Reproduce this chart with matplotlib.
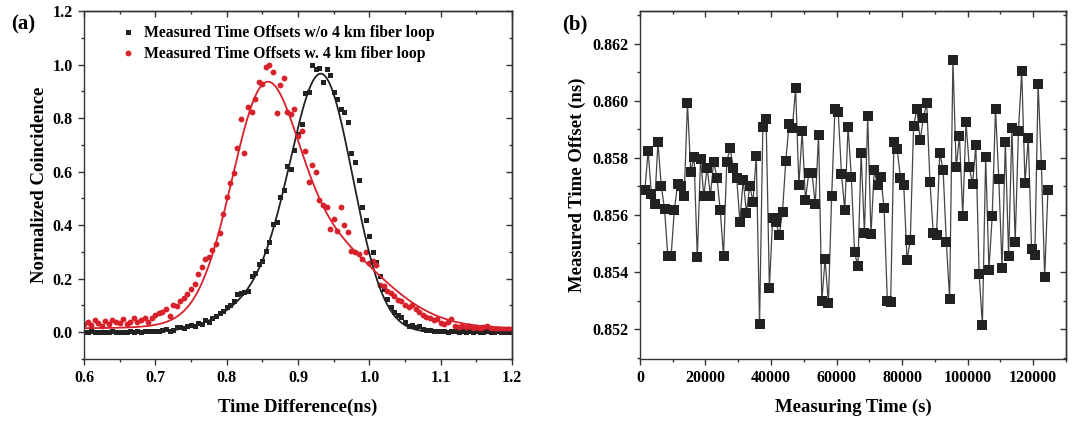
"""Time offset measurements: coincidence histograms and long-term stability."""

import matplotlib
matplotlib.use("Agg")
import matplotlib.pyplot as plt
import numpy as np
from matplotlib.ticker import MultipleLocator

# ---- panel (a): normalized coincidence vs time difference -------------------
time_bins_ns = np.round(np.arange(0.600, 1.2001, 0.005), 3)

coinc_no_loop = [
    0.002, 0.000, 0.003, 0.001, 0.000, 0.002, 0.001, 0.000, 0.003, 0.001,
    0.002, 0.000, 0.001, 0.003, 0.002, 0.004, 0.001, 0.003, 0.005, 0.004,
    0.006, 0.004, 0.009, 0.012, 0.006, 0.010, 0.018, 0.020, 0.016, 0.024,
    0.028, 0.022, 0.035, 0.030, 0.045, 0.038, 0.055, 0.060, 0.072, 0.078,
    0.093, 0.100, 0.116, 0.141, 0.145, 0.150, 0.155, 0.210, 0.223, 0.255,
    0.267, 0.305, 0.337, 0.406, 0.410, 0.507, 0.532, 0.620, 0.608, 0.680,
    0.740, 0.778, 0.895, 0.898, 0.999, 0.985, 0.986, 0.933, 0.984, 0.961,
    0.898, 0.873, 0.835, 0.822, 0.784, 0.671, 0.636, 0.570, 0.469, 0.420,
    0.360, 0.300, 0.262, 0.210, 0.160, 0.125, 0.095, 0.075, 0.065, 0.058,
    0.040, 0.025, 0.028, 0.018, 0.022, 0.012, 0.010, 0.008, 0.006, 0.005,
    0.004, 0.003, 0.002, 0.004, 0.003, 0.001, 0.003, 0.002, 0.004, 0.002,
    0.003, 0.001, 0.002, 0.003, 0.002, 0.001, 0.003, 0.002, 0.001, 0.002,
    0.001,
]

coinc_with_loop = [
    0.030, 0.038, 0.028, 0.045, 0.035, 0.025, 0.042, 0.030, 0.045, 0.040,
    0.035, 0.050, 0.032, 0.040, 0.052, 0.038, 0.045, 0.055, 0.040, 0.052,
    0.064, 0.070, 0.075, 0.085, 0.060, 0.101, 0.097, 0.116, 0.129, 0.144,
    0.160, 0.182, 0.217, 0.243, 0.274, 0.280, 0.306, 0.331, 0.369, 0.443,
    0.506, 0.557, 0.594, 0.690, 0.797, 0.670, 0.841, 0.822, 0.872, 0.936,
    0.929, 0.992, 0.999, 0.973, 0.820, 0.923, 0.951, 0.822, 0.815, 0.834,
    0.733, 0.752, 0.677, 0.563, 0.626, 0.600, 0.494, 0.474, 0.466, 0.387,
    0.424, 0.380, 0.468, 0.400, 0.374, 0.304, 0.298, 0.294, 0.272, 0.298,
    0.260, 0.266, 0.253, 0.178, 0.172, 0.153, 0.146, 0.134, 0.121, 0.118,
    0.102, 0.096, 0.100, 0.085, 0.077, 0.064, 0.058, 0.052, 0.045, 0.048,
    0.033, 0.030, 0.038, 0.048, 0.025, 0.020, 0.022, 0.018, 0.025, 0.015,
    0.020, 0.012, 0.018, 0.023, 0.015, 0.010, 0.013, 0.010, 0.008, 0.012,
    0.010,
]

# fitted peak shapes: (amp1, center1, sigma1, amp2, center2, sigma2, offset)
fit_no_loop = (0.88, 0.935, 0.043, 0.15, 0.870, 0.060, 0.000)
fit_with_loop = (0.68, 0.851, 0.045, 0.34, 0.925, 0.085, 0.015)

# ---- panel (b): measured time offset over time ------------------------------
sample_step_s = 1000
time_offset_ns = [
    0.85688, 0.85688, 0.85825, 0.85672, 0.85640, 0.85855, 0.85703, 0.85621,
    0.85457, 0.85455, 0.85618, 0.85708, 0.85703, 0.85665, 0.85993, 0.85752,
    0.85804, 0.85452, 0.85796, 0.85668, 0.85766, 0.85668, 0.85787, 0.85731,
    0.85616, 0.85457, 0.85787, 0.85833, 0.85766, 0.85731, 0.85577, 0.85724,
    0.85606, 0.85703, 0.85647, 0.85807, 0.85219, 0.85909, 0.85936, 0.85343,
    0.85591, 0.85577, 0.85529, 0.85611, 0.85789, 0.85918, 0.85905, 0.86044,
    0.85705, 0.85895, 0.85651, 0.85746, 0.85746, 0.85637, 0.85881, 0.85298,
    0.85446, 0.85290, 0.85665, 0.85971, 0.85961, 0.85744, 0.85616, 0.85909,
    0.85733, 0.85469, 0.85420, 0.85818, 0.85536, 0.85947, 0.85532, 0.85758,
    0.85704, 0.85732, 0.85623, 0.85298, 0.85294, 0.85857, 0.85830, 0.85729,
    0.85704, 0.85443, 0.85511, 0.85911, 0.85972, 0.85862, 0.85940, 0.85993,
    0.85716, 0.85536, 0.85529, 0.85817, 0.85759, 0.85505, 0.85304, 0.86144,
    0.85767, 0.85876, 0.85598, 0.85926, 0.85767, 0.85708, 0.85845, 0.85392,
    0.85215, 0.85803, 0.85408, 0.85598, 0.85972, 0.85727, 0.85414, 0.85855,
    0.85456, 0.85905, 0.85505, 0.85895, 0.86103, 0.85713, 0.85870, 0.85481,
    0.85461, 0.86059, 0.85776, 0.85383, 0.85688,
]

RED = "#d8222b"
DARK = "#222222"

plt.rcParams["font.family"] = ["Liberation Serif", "DejaVu Serif"]
plt.rcParams["font.weight"] = "bold"
plt.rcParams["axes.labelweight"] = "bold"
plt.rcParams["axes.linewidth"] = 1.0
plt.rcParams["axes.edgecolor"] = "#333333"


def two_gauss(x, params):
    a1, m1, s1, a2, m2, s2, y0 = params
    return (y0 + a1 * np.exp(-(x - m1) ** 2 / (2 * s1 ** 2))
            + a2 * np.exp(-(x - m2) ** 2 / (2 * s2 ** 2)))


def style_axes(ax, xmaj, xmin, ymaj, ymin):
    ax.xaxis.set_major_locator(MultipleLocator(xmaj))
    ax.xaxis.set_minor_locator(MultipleLocator(xmin))
    ax.yaxis.set_major_locator(MultipleLocator(ymaj))
    ax.yaxis.set_minor_locator(MultipleLocator(ymin))
    ax.tick_params(which="major", direction="out", length=4.5, width=1.0,
                   labelsize=11.5, color="#333333")
    ax.tick_params(which="minor", direction="out", length=2.5, width=1.0,
                   color="#333333")
    for lab in ax.get_xticklabels() + ax.get_yticklabels():
        lab.set_fontweight("bold")

    top = ax.secondary_xaxis("top")
    right = ax.secondary_yaxis("right")
    for sec, axis in ((top, top.xaxis), (right, right.yaxis)):
        major = xmaj if sec is top else ymaj
        minor = xmin if sec is top else ymin
        axis.set_major_locator(MultipleLocator(major))
        axis.set_minor_locator(MultipleLocator(minor))
        sec.tick_params(which="major", direction="in", length=4.5, width=1.0,
                        color="#333333")
        sec.tick_params(which="minor", direction="in", length=2.5, width=1.0,
                        color="#333333")
    top.tick_params(labeltop=False)
    right.tick_params(labelright=False)


def main() -> None:
    fig = plt.figure(figsize=(10.75, 4.22), dpi=100)
    ax_a = fig.add_axes([0.0781, 0.1493, 0.3982, 0.8246])
    ax_b = fig.add_axes([0.5953, 0.1493, 0.3963, 0.8246])

    # (a)
    x_fine = np.linspace(0.6, 1.2, 600)
    ax_a.plot(time_bins_ns, coinc_no_loop, "s", color=DARK, ms=3.6, mew=0,
              label="Measured Time Offsets w/o 4 km fiber loop")
    ax_a.plot(time_bins_ns, coinc_with_loop, "o", color=RED, ms=4.2, mew=0,
              label="Measured Time Offsets w. 4 km fiber loop")
    ax_a.plot(x_fine, two_gauss(x_fine, fit_no_loop), color=DARK, lw=1.3)
    ax_a.plot(x_fine, two_gauss(x_fine, fit_with_loop), color=RED, lw=1.3)
    ax_a.set_xlim(0.6, 1.2)
    ax_a.set_ylim(-0.1, 1.2)
    style_axes(ax_a, 0.1, 0.05, 0.2, 0.1)
    ax_a.set_xlabel("Time Difference(ns)", fontsize=13.5, labelpad=9)
    ax_a.set_ylabel("Normalized Coincidence", fontsize=13.5, labelpad=3)
    ax_a.legend(loc="upper left", bbox_to_anchor=(0.06, 0.99), frameon=False,
                handlelength=1.0, handletextpad=0.5, borderaxespad=0.3,
                labelspacing=0.3, prop={"weight": "bold", "size": 11.3})

    # (b)
    meas_time = sample_step_s * (np.arange(len(time_offset_ns)) + 0.5)
    ax_b.plot(meas_time, time_offset_ns, "-", color="#444444", lw=0.9)
    ax_b.plot(meas_time, time_offset_ns, "s", color=DARK, ms=6.5, mew=0)
    ax_b.set_xlim(0, 130000)
    ax_b.set_ylim(0.85095, 0.86315)
    style_axes(ax_b, 20000, 10000, 0.002, 0.001)
    ax_b.set_xlabel("Measuring Time (s)", fontsize=13.5, labelpad=9)
    ax_b.set_ylabel("Measured Time Offset (ns)", fontsize=13.5, labelpad=5)

    fig.text(0.010, 0.93, "(a)", fontsize=15, fontweight="bold")
    fig.text(0.523, 0.93, "(b)", fontsize=15, fontweight="bold")

    fig.savefig("out.png", dpi=100)
    plt.close(fig)


if __name__ == "__main__":
    main()
